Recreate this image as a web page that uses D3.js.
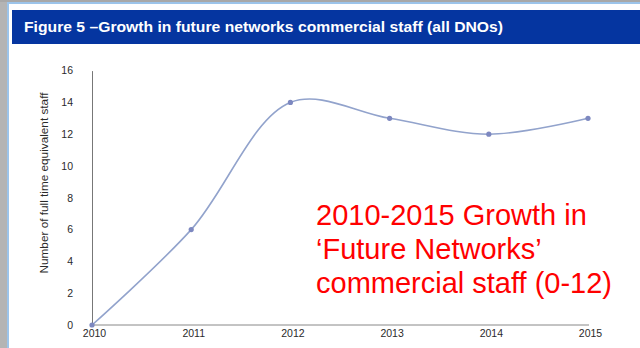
<!DOCTYPE html>
<html lang="en">
<head>
<meta charset="UTF-8">
<title>Figure 5 - Growth in future networks commercial staff</title>
<script src="https://d3js.org/d3.v7.min.js"></script>
<style>
  body { margin: 0; background: #fff; }
  .tick-label { font-family: "Liberation Sans", Arial, sans-serif; font-size: 10.5px; fill: #2a2a2a; }
  .line { fill: none; stroke: #92a3cc; stroke-width: 1.6px; }
  .dot { fill: #7d88c0; }
</style>
</head>
<body>
<div id="chart"></div>
<script>
// data
const years = [2010, 2011, 2012, 2013, 2014, 2015];
const staff = [0, 6, 14, 13, 12, 13];
const yTicks = [0, 2, 4, 6, 8, 10, 12, 14, 16];
const titleText = "Figure 5 \u2013Growth in future networks commercial staff (all DNOs)";
const yTitle = "Number of full time equivalent staff";
const noteLines = ["2010-2015 Growth in", "\u2018Future Networks\u2019", "commercial staff (0-12)"];

const W = 640, H = 348;

const svg = d3.select("#chart").append("svg")
    .attr("width", W)
    .attr("height", H);

// page frame (grey edge + thin blue rule)
svg.append("rect").attr("x", 0).attr("y", 0).attr("width", W).attr("height", H).attr("fill", "#fff");
svg.append("rect").attr("x", 0).attr("y", 0).attr("width", 7).attr("height", H).attr("fill", "#b4b4b4");
svg.append("rect").attr("x", 0).attr("y", 0).attr("width", W).attr("height", 2).attr("fill", "#a8a8a8");
svg.append("rect").attr("x", 7).attr("y", 2).attr("width", 2).attr("height", H).attr("fill", "#9cc4ea");
svg.append("rect").attr("x", 7).attr("y", 2).attr("width", W).attr("height", 2).attr("fill", "#9cc4ea");

// title banner
svg.append("rect")
    .attr("x", 12).attr("y", 10)
    .attr("width", W - 12).attr("height", 34)
    .attr("fill", "#0535a0");
svg.append("text")
    .attr("x", 24).attr("y", 32)
    .attr("fill", "#fff")
    .style("font-family", "'Liberation Sans', Arial, sans-serif")
    .style("font-weight", "bold")
    .style("font-size", "15.5px")
    .attr("textLength", 479)
    .attr("lengthAdjust", "spacingAndGlyphs")
    .text(titleText);

// scales
const x = d3.scalePoint().domain(years).range([92, 588]);
const y = d3.scaleLinear().domain([0, 16]).range([325, 70.6]);

// axes
const yAxis = svg.append("g")
    .attr("transform", "translate(92,0)")
    .call(d3.axisLeft(y).tickValues(yTicks).tickSize(0).tickPadding(19));
yAxis.select(".domain").attr("stroke", "#777");
yAxis.selectAll("text").attr("class", "tick-label");

const xAxis = svg.append("g")
    .attr("transform", "translate(0,325)")
    .call(d3.axisBottom(x).tickSize(0).tickPadding(5));
xAxis.select(".domain").attr("stroke", "#888").attr("d", "M92,0H589");
xAxis.selectAll("text").attr("class", "tick-label").attr("dx", 2);

// y axis title
svg.append("text")
    .attr("transform", "translate(48,183) rotate(-90)")
    .attr("text-anchor", "middle")
    .style("font-family", "'Liberation Sans', Arial, sans-serif")
    .style("font-size", "11px")
    .attr("textLength", 181)
    .attr("lengthAdjust", "spacingAndGlyphs")
    .attr("fill", "#2a2a2a")
    .text(yTitle);

// smoothed line
const pts = years.map((yr, i) => ({ year: yr, value: staff[i] }));
const line = d3.line()
    .x(d => x(d.year))
    .y(d => y(d.value))
    .curve(d3.curveCatmullRom.alpha(0.5));

svg.append("path")
    .datum(pts)
    .attr("class", "line")
    .attr("d", line);

svg.selectAll(".dot")
    .data(pts)
  .enter().append("circle")
    .attr("class", "dot")
    .attr("cx", d => x(d.year))
    .attr("cy", d => y(d.value))
    .attr("r", 2.6);

// red annotation
svg.append("text")
    .attr("x", 316).attr("y", 225)
    .attr("fill", "#ff0000")
    .style("font-family", "'Liberation Sans', Arial, sans-serif")
    .style("font-size", "29px")
  .selectAll("tspan")
    .data(noteLines)
  .enter().append("tspan")
    .attr("x", 316)
    .attr("dy", (d, i) => i === 0 ? 0 : 34)
    .text(d => d);
</script>
</body>
</html>
